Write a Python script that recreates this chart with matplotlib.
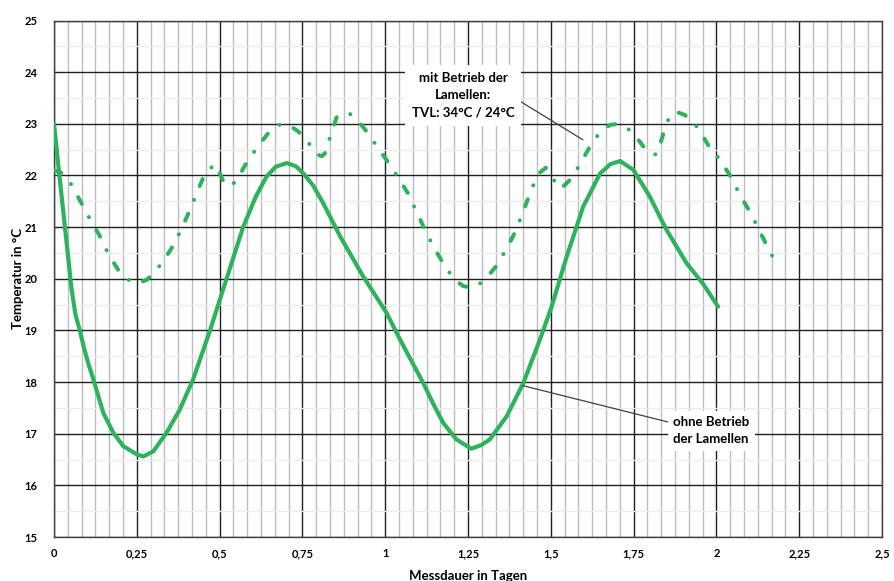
import matplotlib
matplotlib.use("Agg")
import matplotlib.pyplot as plt
from matplotlib.ticker import MultipleLocator, FuncFormatter

plt.rcParams['font.family'] = ['Lato', 'DejaVu Sans']

# Data: "ohne Betrieb der Lamellen" (solid)
ohne_x = [0, 0.005, 0.013, 0.023, 0.038, 0.053, 0.065, 0.078, 0.089, 0.104, 0.119, 0.149, 0.179,
          0.209, 0.25, 0.27, 0.30, 0.34, 0.38, 0.42, 0.47, 0.52, 0.571, 0.61, 0.642, 0.67, 0.703,
          0.73, 0.753, 0.783, 0.813, 0.864, 0.934, 1.004, 1.045, 1.08, 1.115, 1.145, 1.175,
          1.215, 1.26, 1.29, 1.316, 1.367, 1.417, 1.467, 1.502, 1.548, 1.598, 1.649, 1.68,
          1.709, 1.749, 1.799, 1.849, 1.91, 1.96, 2.005]
ohne_y = [23.0, 22.7, 22.2, 21.6, 20.7, 19.8, 19.3, 19.0, 18.7, 18.35, 18.05, 17.4, 17.02,
          16.76, 16.6, 16.56, 16.66, 17.02, 17.47, 18.05, 18.98, 19.98, 21.0, 21.6, 21.98, 22.17, 22.24,
          22.18, 22.04, 21.8, 21.46, 20.82, 20.04, 19.34, 18.82, 18.4, 17.98, 17.58, 17.21,
          16.89, 16.71, 16.78, 16.89, 17.34, 17.98, 18.82, 19.45, 20.43, 21.40, 22.04, 22.22,
          22.28, 22.11, 21.59, 20.95, 20.30, 19.9, 19.46]

# Data: "mit Betrieb der Lamellen" (dash-dot)
mit_x = [0.0, 0.023, 0.053, 0.083, 0.109, 0.139, 0.164, 0.194, 0.22, 0.238, 0.26, 0.28, 0.30,
         0.325, 0.355, 0.385, 0.41, 0.431, 0.456, 0.486, 0.5, 0.516, 0.53, 0.55, 0.577, 0.612,
         0.647, 0.675, 0.693, 0.715, 0.738, 0.758, 0.778, 0.793, 0.808, 0.818, 0.834, 0.854,
         0.874, 0.894, 0.924, 0.944, 0.969, 1.004, 1.036, 1.07, 1.093, 1.12, 1.145, 1.175,
         1.208, 1.235, 1.256, 1.28, 1.301, 1.336, 1.367, 1.392, 1.417, 1.437, 1.462, 1.485,
         1.503, 1.523, 1.54, 1.563, 1.593, 1.618, 1.653, 1.68, 1.703, 1.73, 1.753, 1.783,
         1.81, 1.822, 1.84, 1.86, 1.88, 1.905, 1.945, 1.975, 2.011, 2.046, 2.071, 2.101,
         2.126, 2.151, 2.182]
mit_y = [22.1, 22.05, 21.82, 21.46, 21.15, 20.82, 20.48, 20.17, 20.0, 19.93, 19.93, 19.98, 20.1,
         20.30, 20.59, 20.96, 21.33, 21.66, 22.04, 22.22, 22.05, 21.82, 21.8, 21.88, 22.2, 22.53,
         22.82, 22.97, 23.0, 22.95, 22.85, 22.7, 22.56, 22.42, 22.37, 22.43, 22.75, 23.14,
         23.2, 23.19, 23.01, 22.85, 22.62, 22.30, 21.99, 21.64, 21.32, 20.95, 20.63, 20.30,
         19.99, 19.86, 19.83, 19.88, 19.98, 20.25, 20.59, 20.90, 21.30, 21.66, 22.03, 22.15,
         21.99, 21.75, 21.8, 21.95, 22.27, 22.56, 22.88, 22.98, 23.0, 22.92, 22.79, 22.53,
         22.40, 22.42, 22.82, 23.17, 23.23, 23.17, 22.92, 22.59, 22.30, 21.95, 21.62, 21.30,
         20.98, 20.66, 20.27]

x_label = "Messdauer in Tagen"
y_label = "Temperatur in °C"
label_mit = "mit Betrieb der\nLamellen:\nTVL: 34°C / 24°C"
label_ohne = "ohne Betrieb\nder Lamellen"

green = '#2db35d'

fig = plt.figure(figsize=(8.94, 5.81), dpi=100)
ax = fig.add_axes([0.0604, 0.0757, 0.9262, 0.889])

ax.set_xlim(0, 2.5)
ax.set_ylim(15, 25)
ax.xaxis.set_major_locator(MultipleLocator(0.25))
ax.xaxis.set_minor_locator(MultipleLocator(1 / 24))
ax.yaxis.set_major_locator(MultipleLocator(1))
ax.yaxis.set_minor_locator(MultipleLocator(0.5))

def fmt(v, pos):
    s = ('%.2f' % v).rstrip('0').rstrip('.')
    return s.replace('.', ',')

ax.xaxis.set_major_formatter(FuncFormatter(fmt))

ax.grid(which='minor', axis='x', color='#bdbdbd', lw=1.0, zorder=0)
ax.grid(which='minor', axis='y', color='#ececec', lw=1.0, zorder=0)
ax.grid(which='major', axis='both', color='#202020', lw=1.0, zorder=1)
ax.set_axisbelow(True)

for s in ax.spines.values():
    s.set_color('#404040')
    s.set_linewidth(1.0)

ax.tick_params(which='both', length=0)
ax.tick_params(axis='y', pad=12, labelsize=8)
ax.tick_params(axis='x', pad=8, labelsize=8)
for lab in ax.get_xticklabels() + ax.get_yticklabels():
    lab.set_fontweight('bold')

ax.plot(ohne_x, ohne_y, color=green, lw=3.0, solid_capstyle='round', solid_joinstyle='round', zorder=3)
ax.plot(mit_x, mit_y, color=green, lw=2.9, dashes=(1.9, 3.7, 0.03, 3.7),
        dash_capstyle='round', zorder=3)

ax.set_xlabel(x_label, fontsize=9.5, fontweight='bold', labelpad=8)
ax.set_ylabel(y_label, fontsize=9.5, fontweight='bold')
ax.yaxis.set_label_coords(-0.036, 0.5)

ax.annotate(label_mit, xy=(1.597, 22.69), xytext=(1.235, 23.55),
            ha='center', va='center', fontsize=9.5, fontweight='bold',
            linespacing=1.55,
            bbox=dict(boxstyle='square,pad=0.5', fc='white', ec='none'),
            arrowprops=dict(arrowstyle='-', color='#404040', lw=0.9,
                            relpos=(1.0, 0.45), shrinkA=0, shrinkB=0),
            zorder=5)
ax.annotate(label_ohne, xy=(1.416, 17.93), xytext=(1.984, 17.06),
            ha='center', va='center', fontsize=9.5, fontweight='bold',
            linespacing=1.55,
            bbox=dict(boxstyle='square,pad=0.4', fc='white', ec='none'),
            arrowprops=dict(arrowstyle='-', color='#404040', lw=0.9,
                            relpos=(0.0, 0.75), shrinkA=0, shrinkB=0),
            zorder=5)

fig.savefig('out.png', dpi=100)
